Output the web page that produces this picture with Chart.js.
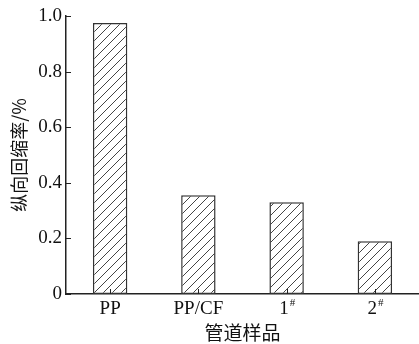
<!DOCTYPE html>
<html>
<head>
<meta charset="utf-8">
<script src="https://cdn.jsdelivr.net/npm/chart.js@4"></script>
<style>
  html, body { margin: 0; padding: 0; background: #fff; }
  #wrap { width: 419px; height: 344px; }
</style>
</head>
<body>
<div id="wrap"><canvas id="chart" width="419" height="344"></canvas></div>
<script>
const categories = ['PP', 'PP/CF', '1#', '2#'];
const shrinkage = [0.975, 0.355, 0.33, 0.19];
const yTicks = [0, 0.2, 0.4, 0.6, 0.8, 1.0];

const serif = '"Liberation Serif", "DejaVu Serif", serif';
const cjk = '"Noto Sans CJK SC", sans-serif';

// diagonal hatch pattern
function makeHatch() {
	const s = 9;
	const c = document.createElement('canvas');
	c.width = s; c.height = s;
	const g = c.getContext('2d');
	g.fillStyle = '#fff';
	g.fillRect(0, 0, s, s);
	g.strokeStyle = '#444';
	g.lineWidth = 1;
	g.beginPath();
	g.moveTo(-1, s + 1); g.lineTo(s + 1, -1);
	g.moveTo(-1, 1); g.lineTo(1, -1);
	g.moveTo(s - 1, s + 1); g.lineTo(s + 1, s - 1);
	g.stroke();
	return document.getElementById('chart').getContext('2d').createPattern(c, 'repeat');
}

// inner tick marks + custom x labels (superscript #)
const axisDeco = {
	id: 'axisDeco',
	afterDraw(chart) {
		const ctx = chart.ctx;
		const x = chart.scales.x, y = chart.scales.y;
		const area = chart.chartArea;
		ctx.save();
		ctx.strokeStyle = '#222';
		ctx.lineWidth = 1;
		ctx.beginPath();
		y.ticks.forEach((t, i) => {
			const py = Math.round(y.getPixelForTick(i)) + 0.5;
			ctx.moveTo(area.left, py); ctx.lineTo(area.left + 5, py);
		});
		x.ticks.forEach((t, i) => {
			const px = Math.round(x.getPixelForTick(i)) + 0.5;
			ctx.moveTo(px, area.bottom); ctx.lineTo(px, area.bottom - 5);
		});
		ctx.stroke();

		ctx.fillStyle = '#111';
		ctx.textBaseline = 'middle';
		categories.forEach((lab, i) => {
			const px = x.getPixelForTick(i);
			const py = area.bottom + 15;
			if (lab.endsWith('#')) {
				const main = lab.slice(0, -1);
				ctx.font = '19px ' + serif;
				const w1 = ctx.measureText(main).width;
				ctx.font = '11px ' + serif;
				const w2 = ctx.measureText('#').width;
				const x0 = px - (w1 + w2) / 2;
				ctx.textAlign = 'left';
				ctx.font = '19px ' + serif;
				ctx.fillText(main, x0, py);
				ctx.font = '11px ' + serif;
				ctx.fillText('#', x0 + w1 + 1, py - 6);
			} else {
				ctx.textAlign = 'center';
				ctx.font = '19px ' + serif;
				ctx.fillText(lab, px, py);
			}
		});
		ctx.restore();
	}
};

new Chart(document.getElementById('chart'), {
	type: 'bar',
	data: {
		labels: categories,
		datasets: [{
			data: shrinkage,
			backgroundColor: makeHatch(),
			borderColor: '#333',
			borderWidth: 1.5,
			borderSkipped: false,
			barPercentage: 0.39,
			categoryPercentage: 1
		}]
	},
	options: {
		responsive: false,
		animation: false,
		layout: { padding: { top: 16, right: 0, left: 0, bottom: 0 } },
		plugins: { legend: { display: false }, tooltip: { enabled: false } },
		scales: {
			x: {
				grid: { display: false, drawTicks: false },
				border: { color: '#222', width: 1.5 },
				ticks: { color: 'rgba(0,0,0,0)', font: { size: 17, family: serif } },
				title: {
					display: true, text: '管道样品', color: '#111',
					font: { size: 19, family: cjk }, padding: { top: 0, bottom: 0 }
				},
				afterFit(scale) { scale.height = 50; }
			},
			y: {
				min: 0, max: 1.0,
				afterBuildTicks(scale) { scale.ticks = yTicks.map(v => ({ value: v })); },
				grid: { display: false, drawTicks: false },
				border: { color: '#222', width: 1.5 },
				ticks: {
					color: '#111', padding: 4,
					font: { size: 19, family: serif },
					callback: v => v === 0 ? '0' : v.toFixed(1)
				},
				title: {
					display: true, text: '纵向回缩率/%', color: '#111',
					font: { size: 18, family: cjk }, padding: { top: 8, bottom: 0 }
				},
				afterFit(scale) { scale.width = 66; }
			}
		}
	},
	plugins: [axisDeco]
});
</script>
</body>
</html>
